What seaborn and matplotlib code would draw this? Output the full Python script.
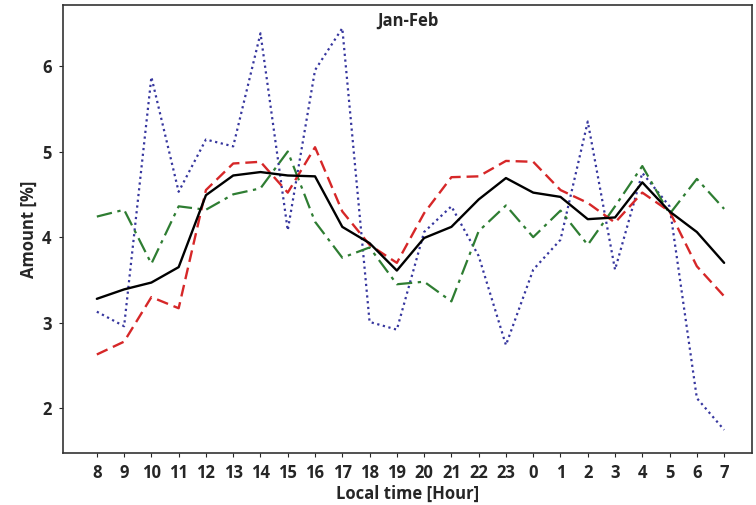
import numpy as np
import pandas as pd
import matplotlib
matplotlib.use("Agg")
import matplotlib.pyplot as plt
import seaborn as sns

# Hourly share of daily amount, local time starting at 08 h
hours = [8, 9, 10, 11, 12, 13, 14, 15, 16, 17, 18, 19, 20, 21, 22, 23,
         0, 1, 2, 3, 4, 5, 6, 7]

mean_all = [3.28, 3.39, 3.47, 3.65, 4.49, 4.72, 4.76, 4.72, 4.71, 4.12, 3.93, 3.61,
            3.99, 4.12, 4.44, 4.69, 4.52, 4.47, 4.21, 4.23, 4.64, 4.30, 4.06, 3.70]
series_red = [2.63, 2.78, 3.30, 3.17, 4.55, 4.86, 4.88, 4.52, 5.05, 4.30, 3.91, 3.70,
              4.28, 4.70, 4.71, 4.89, 4.88, 4.55, 4.40, 4.17, 4.52, 4.30, 3.66, 3.31]
series_green = [4.24, 4.32, 3.69, 4.36, 4.32, 4.50, 4.57, 5.00, 4.18, 3.76, 3.88, 3.45,
                3.48, 3.25, 4.07, 4.37, 4.00, 4.31, 3.91, 4.36, 4.83, 4.27, 4.68, 4.33]
series_blue = [3.13, 2.96, 5.87, 4.53, 5.14, 5.06, 6.38, 4.08, 5.95, 6.44, 3.01, 2.92,
               4.06, 4.36, 3.78, 2.74, 3.62, 3.97, 5.35, 3.62, 4.75, 4.36, 2.12, 1.75]

sns.set_style("ticks")
plt.rcParams["font.family"] = ["Open Sans", "DejaVu Sans"]

fig = plt.figure(figsize=(7.56, 5.05), dpi=100)
ax = fig.add_axes([0.083, 0.103, 0.912, 0.887])

pos = np.arange(len(hours))
styles = [
    (series_blue, "#36369e", (0, (1, 1.6)), 1.6),
    (series_green, "#2e7d32", (0, (7, 2.5, 1.5, 2.5)), 1.6),
    (series_red, "#d62728", (0, (5, 2.5)), 1.7),
    (mean_all, "black", "solid", 1.7),
]
for vals, color, ls, lw in styles:
    df = pd.DataFrame({"pos": pos, "val": vals})
    sns.lineplot(data=df, x="pos", y="val", ax=ax, color=color,
                 linestyle=ls, linewidth=lw, errorbar=None)

ax.set_xlim(-1.25, 24.03)
ax.set_ylim(1.48, 6.71)
ax.set_xticks(pos)
ax.set_xticklabels([str(h) for h in hours])
ax.set_yticks([2, 3, 4, 5, 6])
ax.tick_params(axis="both", labelsize=12, length=3, width=0.8, pad=5)
for lab in ax.get_xticklabels() + ax.get_yticklabels():
    lab.set_fontweight("bold")

ax.set_xlabel("Local time [Hour]", fontsize=12, fontweight="bold", labelpad=2)
ax.set_ylabel("Amount [%]", fontsize=12, fontweight="bold", labelpad=3)
ax.text(0.5, 0.985, "Jan-Feb", transform=ax.transAxes, ha="center", va="top",
        fontsize=12, fontweight="bold")

for sp in ax.spines.values():
    sp.set_visible(True)
    sp.set_linewidth(1.2)
    sp.set_color("#333333")

fig.savefig("out.png", dpi=100)
